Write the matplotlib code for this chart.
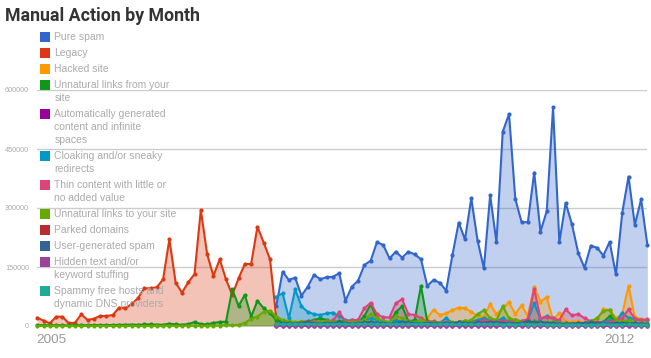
import numpy as np
import matplotlib
matplotlib.use('Agg')
import matplotlib.pyplot as plt
from matplotlib.patches import Rectangle

nan = np.nan
N = 98
months = np.arange(N)
PRE = [nan] * 38

title = "Manual Action by Month"
year_labels = ["2005", "2012"]
year_pos = [2.18, 92.5]
y_ticks = [0, 150000, 300000, 450000, 600000]

series_names = [
    "Pure spam", "Legacy", "Hacked site", "Unnatural links from your site",
    "Automatically generated content and infinite spaces",
    "Cloaking and/or sneaky redirects",
    "Thin content with little or no added value",
    "Unnatural links to your site", "Parked domains", "User-generated spam",
    "Hidden text and/or keyword stuffing",
    "Spammy free hosts and dynamic DNS providers",
]
legend_lines = [
    ["Pure spam"], ["Legacy"], ["Hacked site"],
    ["Unnatural links from your", "site"],
    ["Automatically generated", "content and infinite", "spaces"],
    ["Cloaking and/or sneaky", "redirects"],
    ["Thin content with little or", "no added value"],
    ["Unnatural links to your site"], ["Parked domains"], ["User-generated spam"],
    ["Hidden text and/or", "keyword stuffing"],
    ["Spammy free hosts and", "dynamic DNS providers"],
]
colors = ["#3366CC", "#DC3912", "#FF9900", "#109618", "#990099", "#0099C6",
          "#DD4477", "#66AA00", "#B82E2E", "#316395", "#994499", "#22AA99"]

pure_spam = PRE + [
    51000, 138000, 117000, 123000, 77000, 100000, 130000, 119000, 124000, 125000,
    134000, 64000, 100000, 115000, 155000, 166000, 213000, 206000, 172000, 189000,
    174000, 189000, 182000, 170000, 102000, 117000, 110000, 90000, 180000, 263000,
    220000, 325000, 217000, 147000, 333000, 213000, 494000, 539000, 323000, 264000,
    264000, 390000, 240000, 292000, 556000, 213000, 313000, 259000, 186000, 148000,
    204000, 199000, 179000, 214000, 131000, 288000, 380000, 257000, 322000, 206000]

legacy = [
    21000, 13500, 6900, 23600, 23600, 6900, 8400, 29700, 15250, 18600,
    25400, 25400, 28000, 46500, 45000, 56000, 70400, 95800, 95800, 98400,
    118700, 220400, 110000, 84700, 111000, 132200, 294900, 183000, 127100, 169500,
    118700, 78800, 121300, 157600, 157600, 252400, 211800, 169500, 20000, 4000] + [nan] * 58

hacked = PRE + [
    8000, 12000, 10000, 9000, 12000, 11000, 8000, 7000, 9000, 10000,
    12000, 9000, 8000, 10000, 12000, 25000, 12000, 10000, 8000, 20000,
    15000, 12000, 10000, 12000, 20000, 41000, 28000, 32000, 40000, 47000,
    45000, 36000, 25000, 24000, 55000, 30000, 45000, 60000, 30000, 53000,
    25000, 100000, 62000, 73000, 15000, 33000, 12000, 10000, 12000, 8000,
    10000, 15000, 42000, 41000, 20000, 30000, 102000, 22000, 18000, 15000]

links_from = [
    2000, 2000, 1500, 2000, 2000, 1500, 2000, 2000, 2000, 2500,
    2000, 2500, 2500, 3000, 3000, 3500, 3000, 4000, 4000, 3500,
    3000, 6000, 4000, 3000, 5000, 10000, 5000, 4000, 8000, 10000,
    11000, 93000, 51000, 79000, 24000, 64000, 45000, 33000, 15000, 10000,
    8000, 8000, 10000, 12000, 15000, 20000, 15000, 10000, 12000, 12000,
    15000, 10000, 25000, 55000, 20000, 10000, 8000, 35000, 50000, 12000,
    15000, 102000, 12000, 10000, 8000, 6000, 8000, 10000, 12000, 10000,
    8000, 15000, 10000, 12000, 15000, 10000, 8000, 10000, 8000, 12000,
    10000, 8000, 6000, 5000, 8000, 6000, 5000, 6000, 5000, 8000,
    10000, 25000, 12000, 8000, 10000, 6000, 5000, 5000]

auto_gen = PRE + [
    0, 0, 0, 0, 0, 0, 0, 0, 0, 0,
    0, 0, 0, 0, 0, 0, 0, 0, 0, 0,
    0, 0, 0, 0, 0, 0, 0, 0, 0, 0,
    0, 0, 0, 0, 0, 0, 0, 0, 0, 0,
    0, 0, 0, 0, 0, 0, 0, 0, 0, 0,
    0, 0, 0, 0, 0, 0, 0, 0, 0, 0]

cloaking = PRE + [
    74500, 83000, 19600, 93000, 50000, 36000, 30000, 28000, 32000, 34000,
    25000, 15000, 12000, 14000, 15000, 20000, 15000, 12000, 10000, 15000,
    12000, 8000, 10000, 8000, 6000, 10000, 8000, 20000, 8000, 10000,
    8000, 12000, 15000, 20000, 15000, 12000, 20000, 10000, 15000, 12000,
    15000, 58000, 18000, 25000, 20000, 8000, 8000, 6000, 5000, 5000,
    6000, 8000, 10000, 15000, 10000, 34000, 20000, 18000, 15000, 15000]

thin = PRE + [
    5000, 5000, 8000, 6000, 8000, 10000, 12000, 10000, 12000, 14000,
    35000, 12000, 14000, 16000, 45000, 59000, 30000, 22000, 22000, 58000,
    68000, 30000, 28000, 20000, 10000, 12000, 8000, 10000, 8000, 10000,
    8000, 12000, 10000, 14000, 12000, 15000, 12000, 10000, 15000, 12000,
    18000, 94000, 20000, 22000, 20000, 15000, 42000, 27000, 30000, 20000,
    12000, 10000, 8000, 10000, 15000, 20000, 42000, 19000, 15000, 17000]

links_to = [
    0, 0, 0, 0, 0, 0, 0, 0, 0, 0,
    0, 0, 0, 0, 0, 500, 0, 0, 0, 500,
    0, 1000, 500, 0, 1000, 500, 0, 500, 1000, 1000,
    2000, 2000, 3000, 8000, 18000, 24000, 36000, 39000, 24000, 15000,
    12000, 10000, 8000, 7000, 9000, 10000, 12000, 10000, 8000, 9000,
    10000, 9000, 15000, 30000, 20000, 12000, 10000, 25000, 20000, 12000,
    10000, 15000, 8000, 9000, 8000, 7000, 10000, 9000, 12000, 15000,
    30000, 40000, 20000, 15000, 50000, 20000, 15000, 10000, 9000, 12000,
    10000, 10000, 10000, 8000, 7000, 6000, 8000, 7000, 12000, 20000,
    38000, 41000, 15000, 10000, 15000, 8000, 8000, 7000]

parked = PRE + [
    3000, 4000, 3000, 2000, 3000, 4000, 3000, 2000, 3000, 4000,
    5000, 3000, 2000, 3000, 4000, 5000, 3000, 2000, 3000, 4000,
    5000, 3000, 2000, 3000, 2000, 3000, 4000, 3000, 2000, 3000,
    4000, 3000, 2000, 3000, 4000, 3000, 2000, 3000, 4000, 3000,
    2000, 3000, 6000, 3000, 2000, 3000, 4000, 3000, 2000, 3000,
    4000, 3000, 2000, 3000, 4000, 3000, 2000, 3000, 4000, 3000]

ugc_spam = PRE + [
    6000, 8000, 7000, 6000, 8000, 9000, 7000, 6000, 8000, 7000,
    9000, 8000, 6000, 7000, 9000, 10000, 8000, 7000, 6000, 8000,
    10000, 9000, 7000, 6000, 8000, 7000, 6000, 8000, 7000, 9000,
    8000, 7000, 9000, 8000, 10000, 9000, 8000, 7000, 6000, 8000,
    12000, 9000, 10000, 8000, 7000, 6000, 5000, 6000, 7000, 8000,
    9000, 8000, 7000, 6000, 8000, 7000, 6000, 7000, 6000, 5000]

hidden = PRE + [
    0, 0, 0, 0, 0, 0, 0, 0, 0, 0,
    0, 0, 0, 0, 0, 0, 0, 0, 0, 0,
    0, 0, 0, 0, 0, 0, 0, 0, 0, 0,
    0, 0, 0, 0, 0, 0, 0, 0, 0, 0,
    0, 0, 0, 0, 0, 0, 0, 0, 0, 0,
    0, 0, 0, 0, 0, 0, 0, 0, 0, 0]

spammy_hosts = PRE + [
    4500, 5000, 4500, 4000, 4500, 5000, 4500, 4000, 4500, 4500,
    5000, 4500, 4000, 4500, 5000, 4500, 4000, 4500, 4500, 5000,
    4500, 4000, 4500, 5000, 4500, 4000, 4000, 4500, 4000, 4000,
    4500, 4000, 4000, 4500, 4000, 4000, 3500, 4000, 3500, 4000,
    3500, 3500, 4000, 3500, 3500, 3500, 3000, 3500, 3000, 3000,
    3000, 3500, 4000, 3500, 3500, 3500, 4000, 3500, 3500, 3500]

all_series = [pure_spam, legacy, hacked, links_from, auto_gen, cloaking, thin,
              links_to, parked, ugc_spam, hidden, spammy_hosts]
for s in all_series:
    assert len(s) == N, len(s)

W, H = 651, 358
fig = plt.figure(figsize=(W / 100, H / 100), dpi=100)
ax = fig.add_axes([37.3 / W, 32 / H, 610.1 / W, 236 / H])
ax.set_xlim(0, N - 1)
ax.set_ylim(0, 600000)
for sp in ax.spines.values():
    sp.set_visible(False)

for yv in y_ticks[1:]:
    ax.axhline(yv, color="#cccccc", lw=1, zorder=0)

for vals, c in zip(all_series, colors):
    v = np.array(vals, dtype=float)
    ax.fill_between(months, v, 0, where=~np.isnan(v), color=c, alpha=0.3,
                    lw=0, zorder=1)
for vals, c in zip(all_series, colors):
    v = np.array(vals, dtype=float)
    ax.plot(months, v, color=c, lw=1.5, marker="o", markersize=3,
            markeredgewidth=0, zorder=3, clip_on=False)

ax.axhline(0, color="#555555", lw=1, zorder=2)

ax.set_yticks(y_ticks)
ax.set_yticklabels([str(t) for t in y_ticks], fontsize=5.2,
                   family="Liberation Sans", color="#aaaaaa")
ax.set_xticks(year_pos)
ax.set_xticklabels(year_labels, fontsize=9.7, family="Liberation Sans",
                   color="#999999")
ax.tick_params(axis="y", length=0, pad=5.8)
ax.tick_params(axis="x", length=0, pad=5.5)

fig.text(5 / W, 1 - 21 / H, title, fontsize=12.8, fontweight="bold",
         family="Roboto", color="#333333", va="baseline", ha="left")

yc = 37.0
for lines, c in zip(legend_lines, colors):
    fig.add_artist(Rectangle((40 / W, 1 - (yc + 5) / H), 10 / W, 10 / H,
                             transform=fig.transFigure, color=c, lw=0))
    for k, ln in enumerate(lines):
        fig.text(54.3 / W, 1 - (yc + 13 * k) / H, ln, fontsize=7.5,
                 family="Liberation Sans", color="#aaaaaa", va="center",
                 ha="left")
    yc += 16 + 13 * (len(lines) - 1)

fig.savefig("out.png", dpi=100)
